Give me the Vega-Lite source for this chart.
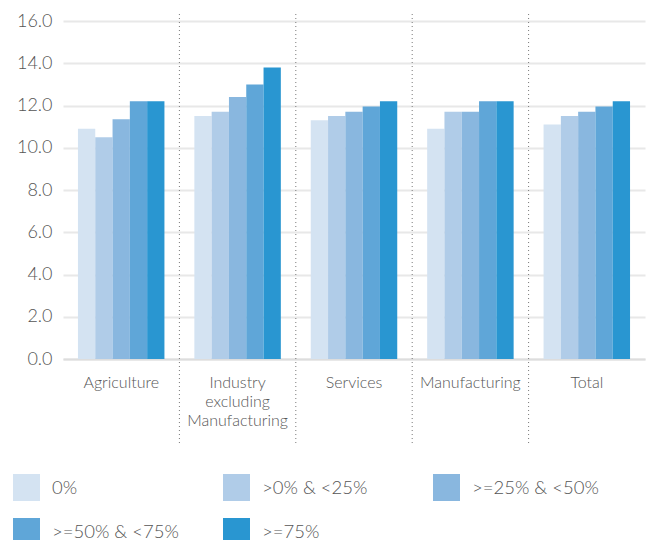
{
  "$schema": "https://vega.github.io/schema/vega-lite/v6.json",
  "width": 582,
  "height": 338,
  "autosize": {"type": "none"},
  "padding": {"left": 63, "top": 21, "right": 1, "bottom": 181},
  "config": {"font": "Lato", "view": {"stroke": null}},
  "datasets": {
    "bars": [
      {"sector": "Agriculture", "band": "0%", "value": 10.9},
      {"sector": "Agriculture", "band": ">0% & <25%", "value": 10.5},
      {"sector": "Agriculture", "band": ">=25% & <50%", "value": 11.35},
      {"sector": "Agriculture", "band": ">=50% & <75%", "value": 12.2},
      {"sector": "Agriculture", "band": ">=75%", "value": 12.2},
      {"sector": "Industry excluding Manufacturing", "band": "0%", "value": 11.5},
      {"sector": "Industry excluding Manufacturing", "band": ">0% & <25%", "value": 11.7},
      {"sector": "Industry excluding Manufacturing", "band": ">=25% & <50%", "value": 12.4},
      {"sector": "Industry excluding Manufacturing", "band": ">=50% & <75%", "value": 13.0},
      {"sector": "Industry excluding Manufacturing", "band": ">=75%", "value": 13.8},
      {"sector": "Services", "band": "0%", "value": 11.3},
      {"sector": "Services", "band": ">0% & <25%", "value": 11.5},
      {"sector": "Services", "band": ">=25% & <50%", "value": 11.7},
      {"sector": "Services", "band": ">=50% & <75%", "value": 11.95},
      {"sector": "Services", "band": ">=75%", "value": 12.2},
      {"sector": "Manufacturing", "band": "0%", "value": 10.9},
      {"sector": "Manufacturing", "band": ">0% & <25%", "value": 11.7},
      {"sector": "Manufacturing", "band": ">=25% & <50%", "value": 11.7},
      {"sector": "Manufacturing", "band": ">=50% & <75%", "value": 12.2},
      {"sector": "Manufacturing", "band": ">=75%", "value": 12.2},
      {"sector": "Total", "band": "0%", "value": 11.1},
      {"sector": "Total", "band": ">0% & <25%", "value": 11.5},
      {"sector": "Total", "band": ">=25% & <50%", "value": 11.7},
      {"sector": "Total", "band": ">=50% & <75%", "value": 11.95},
      {"sector": "Total", "band": ">=75%", "value": 12.2}
    ],
    "seps": [
      {"sector": "Industry excluding Manufacturing"},
      {"sector": "Services"},
      {"sector": "Manufacturing"},
      {"sector": "Total"}
    ]
  },
  "layer": [
    {
      "data": {"name": "bars"},
      "mark": {"type": "bar"},
      "encoding": {
        "x": {
          "field": "sector",
          "type": "nominal",
          "sort": ["Agriculture", "Industry excluding Manufacturing", "Services", "Manufacturing", "Total"],
          "scale": {"paddingInner": 0, "paddingOuter": 0},
          "axis": {
            "title": null,
            "labelAngle": 0,
            "labelExpr": "datum.value == 'Industry excluding Manufacturing' ? ['Industry','excluding','Manufacturing'] : datum.value",
            "labelFontSize": 16,
            "labelFontWeight": 300,
            "labelColor": "#555555",
            "labelPadding": 15,
            "labelLineHeight": 19,
            "ticks": false,
            "domainColor": "#dddddd",
            "domainWidth": 2,
            "labelLimit": 200
          }
        },
        "xOffset": {
          "field": "band",
          "type": "nominal",
          "sort": ["0%", ">0% & <25%", ">=25% & <50%", ">=50% & <75%", ">=75%"],
          "scale": {"paddingInner": 0, "paddingOuter": 0.865}
        },
        "y": {
          "field": "value",
          "type": "quantitative",
          "scale": {"domain": [0, 16], "nice": false},
          "axis": {
            "title": null,
            "values": [0, 2, 4, 6, 8, 10, 12, 14, 16],
            "format": ".1f",
            "labelFontSize": 18,
            "labelFontWeight": 300,
            "labelColor": "#555555",
            "labelPadding": 11,
            "domain": false,
            "ticks": false,
            "gridColor": "#e8e8e8",
            "gridWidth": 2
          }
        },
        "color": {
          "field": "band",
          "type": "nominal",
          "scale": {
            "domain": ["0%", ">0% & <25%", ">=25% & <50%", ">=50% & <75%", ">=75%"],
            "range": ["#d4e3f2", "#b0cce8", "#89b7df", "#5fa6d8", "#2996d1"]
          },
          "legend": {
            "title": null,
            "orient": "none",
            "legendX": -50,
            "legendY": 453,
            "direction": "horizontal",
            "columns": 3,
            "gridAlign": "all",
            "columnPadding": 44,
            "rowPadding": 17,
            "symbolType": "square",
            "symbolSize": 729,
            "symbolStrokeWidth": 0,
            "labelFontSize": 18.5,
            "labelFontWeight": 300,
            "labelColor": "#555555",
            "labelOffset": 12
          }
        }
      }
    },
    {
      "data": {"name": "seps"},
      "mark": {"type": "rule", "color": "#777777", "strokeWidth": 1, "strokeDash": [1, 3]},
      "encoding": {
        "x": {
          "field": "sector",
          "type": "nominal",
          "sort": ["Agriculture", "Industry excluding Manufacturing", "Services", "Manufacturing", "Total"],
          "bandPosition": 0
        },
        "y": {"datum": 16.33, "type": "quantitative"},
        "y2": {"datum": -4.12}
      }
    }
  ]
}
